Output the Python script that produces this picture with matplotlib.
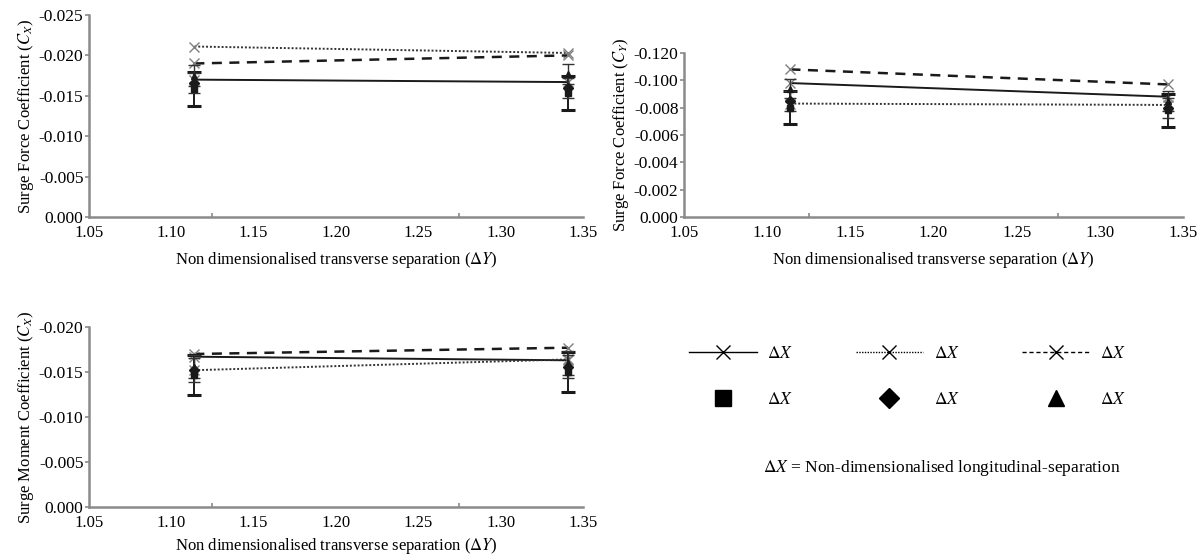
import matplotlib
matplotlib.use("Agg")
import matplotlib.pyplot as plt
from matplotlib.lines import Line2D
from matplotlib.ticker import FixedLocator, FixedFormatter

plt.rcParams['font.family'] = ['Liberation Serif', 'DejaVu Serif']
plt.rcParams['mathtext.fontset'] = 'stix'

# transverse separations (dY)
x_sep = [1.114, 1.341]

# surge force coefficient Cx
cx_solid = [-0.0170, -0.0167]
cx_dotted = [-0.0211, -0.0203]
cx_dashed = [-0.0190, -0.0200]
cx_square = [-0.0158, -0.0154]
cx_diamond = [-0.0166, -0.0160]
cx_triangle = [-0.0175, -0.0177]
cx_err = [0.0021, 0.0021]

# force coefficient Cy (tick labels as printed in the original)
cy_solid = [-0.0098, -0.0088]
cy_dotted = [-0.0083, -0.0082]
cy_dashed = [-0.0108, -0.0097]
cy_square = [-0.0080, -0.0078]
cy_diamond = [-0.0085, -0.0080]
cy_triangle = [-0.0094, -0.0085]
cy_err = [0.0012, 0.0012]
cy_ticks = [0.0, -0.002, -0.004, -0.006, -0.008, -0.010, -0.012]
cy_tick_labels = ['0.000', '-0.002', '-0.004', '-0.006', '-0.008', '-0.100', '-0.120']

# surge moment coefficient
cm_solid = [-0.0167, -0.0163]
cm_dotted = [-0.0152, -0.0164]
cm_dashed = [-0.0170, -0.0177]
cm_square = [-0.0147, -0.0150]
cm_diamond = [-0.0152, -0.0156]
cm_triangle = [-0.0156, -0.0160]
cm_err = [0.0022, 0.0022]

x_labels = ['1.05', '1.10', '1.15', '1.20', '1.25', '1.30', '1.35']
x_ticks = [1.05, 1.10, 1.15, 1.20, 1.25, 1.30, 1.35]

GRAY = '#8a8a8a'
W, H = 1200, 556


def box(x0, y0, x1, y1):
    # pixel box -> figure fraction
    return [x0 / W, 1 - y1 / H, (x1 - x0) / W, (y1 - y0) / H]


def dibujar(ax, solid, dotted, dashed, sq, di, tri, err):
    ax.plot(x_sep, solid, color='#1a1a1a', lw=1.4, ls='-', marker='x', ms=7,
            mec='#808080', zorder=3)
    ax.plot(x_sep, dotted, color='#333333', lw=1.4, ls=(0, (1, 1)), marker='x',
            ms=7, mec='#808080', zorder=3)
    ax.plot(x_sep, dashed, color='#1a1a1a', lw=1.8, ls=(0, (4, 3)), marker='x',
            ms=7, mec='#808080', zorder=3)
    ax.errorbar(x_sep, sq, yerr=err, fmt='s', color='#1a1a1a', ms=5,
                ecolor='#1a1a1a', elinewidth=1.4, capsize=5, capthick=2.2, zorder=4)
    ax.errorbar(x_sep, di, yerr=[e * 0.6 for e in err], fmt='D', color='#1a1a1a',
                ms=5, ecolor='#333333', elinewidth=1, capsize=4, zorder=4)
    ax.errorbar(x_sep, tri, yerr=[e * 0.6 for e in err], fmt='^', color='#1a1a1a',
                ms=5, ecolor='#333333', elinewidth=1, capsize=4, zorder=4)


def estilo(ax, ylabel):
    for s in ['top', 'right']:
        ax.spines[s].set_visible(False)
    for s in ['left', 'bottom']:
        ax.spines[s].set_color(GRAY)
        ax.spines[s].set_linewidth(1.8)
    ax.set_xlim(1.05, 1.35)
    ax.xaxis.set_major_locator(FixedLocator(x_ticks))
    ax.xaxis.set_major_formatter(FixedFormatter(x_labels))
    ax.xaxis.set_minor_locator(FixedLocator([1.125, 1.20, 1.275]))
    ax.tick_params(axis='x', which='major', length=0, pad=6, labelsize=12)
    ax.tick_params(axis='x', which='minor', direction='in', length=3, color=GRAY, width=1.2)
    ax.tick_params(axis='y', which='major', direction='out', length=3, color=GRAY,
                   width=1.2, pad=1, labelsize=12.5)
    ax.set_xlabel(r'Non dimensionalised transverse separation ($\Delta Y$)', fontsize=12,
                  labelpad=6)
    ax.set_ylabel(ylabel, fontsize=12, labelpad=2)


fig = plt.figure(figsize=(12, 5.56), dpi=100)

ax1 = fig.add_axes(box(89, 15, 583, 217))
dibujar(ax1, cx_solid, cx_dotted, cx_dashed, cx_square, cx_diamond, cx_triangle, cx_err)
ax1.set_ylim(0, -0.025)
ax1.set_yticks([0, -0.005, -0.010, -0.015, -0.020, -0.025])
ax1.set_yticklabels(['0.000', '-0.005', '-0.010', '-0.015', '-0.020', '-0.025'])
estilo(ax1, r'Surge Force Coefficient ($C_X$)')

ax2 = fig.add_axes(box(684, 53, 1183, 217))
dibujar(ax2, cy_solid, cy_dotted, cy_dashed, cy_square, cy_diamond, cy_triangle, cy_err)
ax2.set_ylim(0, -0.012)
ax2.yaxis.set_major_locator(FixedLocator(cy_ticks))
ax2.yaxis.set_major_formatter(FixedFormatter(cy_tick_labels))
estilo(ax2, r'Surge Force Coefficient ($C_Y$)')

ax3 = fig.add_axes(box(89, 327, 583, 507))
dibujar(ax3, cm_solid, cm_dotted, cm_dashed, cm_square, cm_diamond, cm_triangle, cm_err)
ax3.set_ylim(0, -0.020)
ax3.set_yticks([0, -0.005, -0.010, -0.015, -0.020])
ax3.set_yticklabels(['0.000', '-0.005', '-0.010', '-0.015', '-0.020'])
estilo(ax3, r'Surge Moment Coefficient ($C_X$)')
ax3.xaxis.labelpad = 3

# leyenda
h_solid = Line2D([], [], color='k', lw=1, ls='-', marker='x', ms=10)
h_dot = Line2D([], [], color='k', lw=1, ls=(0, (1, 1)), marker='x', ms=10)
h_dash = Line2D([], [], color='k', lw=1, ls=(0, (3, 2)), marker='x', ms=10)
h_sq = Line2D([], [], color='k', ls='none', marker='s', ms=11)
h_di = Line2D([], [], color='k', ls='none', marker='D', ms=10)
h_tri = Line2D([], [], color='k', ls='none', marker='^', ms=12)
lab = r'$\Delta X$'
fig.legend([h_solid, h_sq, h_dot, h_di, h_dash, h_tri], [lab] * 6, ncol=3,
           loc='upper left', bbox_to_anchor=(689 / W, 1 - 346 / H),
           bbox_transform=fig.transFigure, frameon=False, borderpad=0,
           borderaxespad=0, handlelength=3.9, handletextpad=0.6,
           columnspacing=3.6, labelspacing=1.7, fontsize=12.5)
fig.text(942 / W, 1 - 468 / H,
         r'$\Delta X$ = Non-dimensionalised longitudinal-separation',
         ha='center', va='center', fontsize=12.5)

fig.savefig('out.png', dpi=100)
